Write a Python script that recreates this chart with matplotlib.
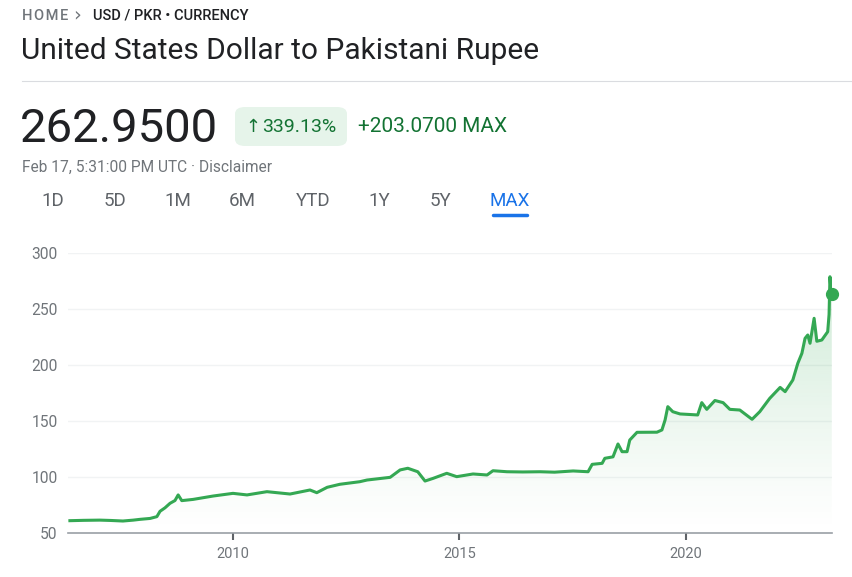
import numpy as np
import matplotlib
matplotlib.use("Agg")
import matplotlib.pyplot as plt
from matplotlib.patches import FancyBboxPatch, Polygon
from matplotlib.lines import Line2D

# ---- data (decimal years, USD/PKR rate) ----
years = [2006.40, 2006.70, 2007.06, 2007.30, 2007.57, 2007.80, 2007.95, 2008.17, 2008.32,
         2008.39, 2008.50, 2008.61, 2008.72, 2008.79, 2008.87, 2009.12, 2009.56, 2010.00,
         2010.31, 2010.75, 2011.26, 2011.70, 2011.85, 2012.08, 2012.36, 2012.80, 2012.96,
         2013.47, 2013.69, 2013.86, 2014.08, 2014.24, 2014.42, 2014.72, 2014.94, 2015.30,
         2015.61, 2015.74, 2016.05, 2016.40, 2016.78, 2017.10, 2017.51, 2017.84, 2017.93,
         2018.15, 2018.21, 2018.39, 2018.50, 2018.59, 2018.70, 2018.76, 2018.92, 2019.36,
         2019.47, 2019.54, 2019.60, 2019.71, 2019.87, 2020.26, 2020.35, 2020.46, 2020.64,
         2020.82, 2020.97, 2021.19, 2021.46, 2021.63, 2021.85, 2022.08, 2022.19, 2022.36,
         2022.47, 2022.56, 2022.63, 2022.69, 2022.74, 2022.83, 2022.89, 2023.00, 2023.13,
         2023.16, 2023.18, 2023.20, 2023.22]
rates = [61.0, 61.3, 61.5, 61.2, 60.7, 61.5, 62.2, 63.0, 64.6,
         69.4, 72.5, 76.5, 79.0, 84.0, 78.9, 80.0, 83.0, 85.4,
         84.0, 86.9, 84.8, 88.4, 86.0, 90.8, 93.5, 95.8, 97.3,
         99.7, 106.3, 107.8, 104.7, 96.4, 98.8, 103.3, 100.3, 102.7,
         101.8, 105.6, 104.7, 104.5, 104.7, 104.3, 105.4, 104.7, 111.3,
         112.2, 116.7, 118.0, 129.5, 122.6, 122.6, 133.0, 139.9, 140.0,
         142.0, 150.9, 162.8, 158.3, 156.3, 155.4, 166.4, 160.4, 168.3,
         166.4, 160.4, 159.8, 151.5, 158.3, 170.2, 180.0, 176.2, 186.6,
         201.5, 210.4, 223.8, 226.8, 219.4, 241.7, 221.2, 222.3, 229.7,
         245.0, 278.8, 268.0, 262.95]

y_ticks = [50, 100, 150, 200, 250, 300]
x_ticks = [2010, 2015, 2020]
x_tick_labels = ["2010", "2015", "2020"]
tabs = ["1D", "5D", "1M", "6M", "YTD", "1Y", "5Y", "MAX"]
tab_x = [53, 115, 178, 242, 313, 379, 440, 510]

W, H = 852, 577
fig = plt.figure(figsize=(W / 100, H / 100), dpi=100)
fig.patch.set_facecolor("white")

def fx(px):
    return px / W

def fy(py):
    return 1 - py / H

GREEN = "#34a853"
DARKGREEN = "#137333"
GRAY = "#70757a"
DARK = "#202124"

# ---- header ----
fig.text(fx(22), fy(16), "H O M E".replace(" ", "\u200a"), fontsize=10.5, color=GRAY,
         family=["Roboto", "DejaVu Sans"], fontweight="medium", va="center", ha="left")
fig.text(fx(73), fy(15), "›", fontsize=14, color=GRAY, family="DejaVu Sans",
         va="center", ha="left")
fig.text(fx(93), fy(16), "USD / PKR • CURRENCY", fontsize=10.5, color=DARK,
         family="Roboto", fontweight="medium", va="center", ha="left")
fig.text(fx(21), fy(51), "United States Dollar to Pakistani Rupee", fontsize=21.5,
         color=DARK, family="Roboto", va="center", ha="left")
fig.add_artist(Line2D([fx(22), fx(852)], [fy(81), fy(81)], color="#dadce0", lw=0.8))

fig.text(fx(20), fy(129), "262.9500", fontsize=34, color=DARK, family="Roboto",
         va="center", ha="left")
badge = FancyBboxPatch((fx(235), fy(146)), fx(112), (146 - 107) / H,
                       boxstyle="round,pad=0,rounding_size=0.012",
                       transform=fig.transFigure, facecolor="#e6f4ea", edgecolor="none")
fig.add_artist(badge)
fig.text(fx(245), fy(127), "↑", fontsize=13, color=DARKGREEN, family="DejaVu Sans",
         va="center", ha="left")
fig.text(fx(262), fy(127), "339.13%", fontsize=14, color=DARKGREEN, family="Roboto",
         va="center", ha="left")
fig.text(fx(358), fy(127), "+203.0700 MAX", fontsize=15, color=DARKGREEN, family="Roboto",
         va="center", ha="left")
fig.text(fx(22), fy(167), "Feb 17, 5:31:00 PM UTC · Disclaimer", fontsize=11.2, color=GRAY,
         family="Roboto", va="center", ha="left")

for t, xp in zip(tabs, tab_x):
    col = "#1a73e8" if t == "MAX" else "#5f6368"
    fig.text(fx(xp), fy(201), t, fontsize=13.5, color=col, family="Roboto",
             va="center", ha="center")
fig.add_artist(Line2D([fx(493), fx(527)], [fy(215), fy(215)], color="#1a73e8", lw=2.5,
                      solid_capstyle="round"))

# ---- chart ----
ax = fig.add_axes([fx(68), fy(533), fx(832 - 68), (533 - 253) / H])
x0, x1 = 2006.358, 2023.225
ax.set_xlim(x0, x1)
ax.set_ylim(50, 300)

for v in y_ticks[1:]:
    ax.axhline(v, color="#f1f3f4", lw=1.0, zorder=0)

# gradient fill under the line
grad = np.linspace(0, 1, 256)
rgba = np.zeros((256, 1, 4))
rgba[..., 0] = 0x34 / 255
rgba[..., 1] = 0xa8 / 255
rgba[..., 2] = 0x53 / 255
rgba[:, 0, 3] = grad ** 1.2 * 0.27
img = ax.imshow(rgba, extent=[x0, x1, 50, 300], origin="lower", aspect="auto", zorder=1)
poly_pts = [(years[0], 50)] + list(zip(years, rates)) + [(years[-1], 50)]
clip = Polygon(poly_pts, closed=True, facecolor="none", edgecolor="none",
               transform=ax.transData)
ax.add_patch(clip)
img.set_clip_path(clip)

ax.plot(years, rates, color=GREEN, lw=2.2, zorder=3, solid_joinstyle="round")
ax.plot([years[-1]], [rates[-1]], "o", color=GREEN, markersize=8.5, zorder=4,
        clip_on=False)

for s in ["top", "right", "left"]:
    ax.spines[s].set_visible(False)
ax.spines["bottom"].set_color("#9aa0a6")
ax.spines["bottom"].set_linewidth(1.2)

ax.set_yticks(y_ticks)
ax.set_yticklabels([str(v) for v in y_ticks])
ax.tick_params(axis="y", length=0, pad=7.5, labelsize=11.2, labelcolor=GRAY)
ax.set_xticks(x_ticks)
ax.set_xticklabels(x_tick_labels)
ax.tick_params(axis="x", length=5, width=1.5, color="#5f6368", pad=5, labelsize=10.5,
               labelcolor=GRAY, direction="out")
for lab in ax.get_xticklabels() + ax.get_yticklabels():
    lab.set_family("Roboto")

fig.savefig("out.png", dpi=100, facecolor="white")
